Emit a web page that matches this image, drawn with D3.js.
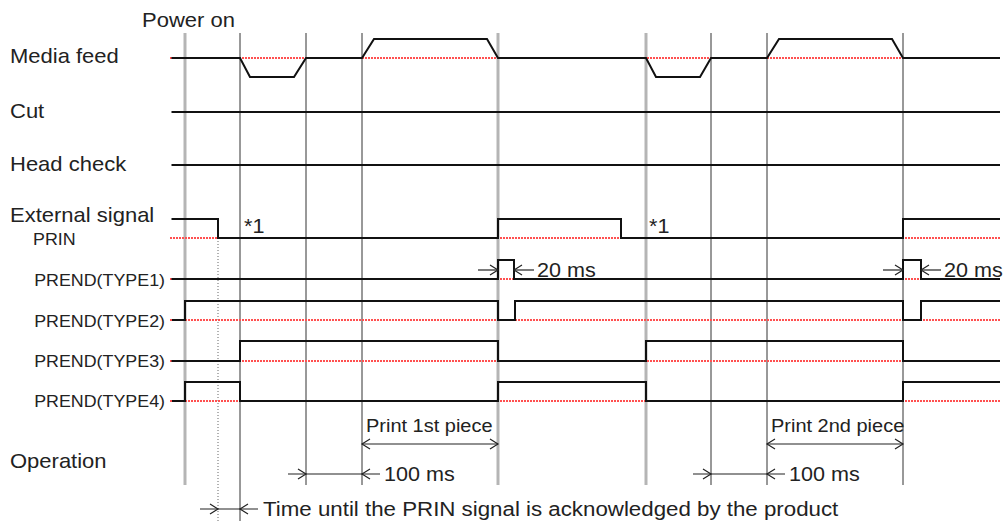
<!DOCTYPE html>
<html>
<head>
<meta charset="utf-8">
<script src="https://cdn.jsdelivr.net/npm/d3@7"></script>
<style>
  body { margin: 0; background: #fff; }
  text { font-family: "Liberation Sans", Arial, sans-serif; fill: #222; }
</style>
</head>
<body>
<div id="chart"></div>
<script>
// time units (arbitrary, not to scale like the original diagram)
const timeEnd = 83;

// signal waveforms: [time, level]
const mediaFeed = [[0, 0], [7.0, 0], [8.0, -1], [12.4, -1], [13.6, 0], [19.2, 0], [20.4, 1], [31.7, 1], [32.8, 0],
                   [47.6, 0], [48.6, -1], [53.0, -1], [54.1, 0], [59.7, 0], [60.9, 1], [72.2, 1], [73.3, 0], [83, 0]];
const cut = [[0, 0], [83, 0]];
const headCheck = [[0, 0], [83, 0]];
const prin = [[0, 1], [4.8, 0], [32.8, 1], [45.1, 0], [73.3, 1], [83, 1]];
const prendType1 = [[0, 0], [32.8, 1], [34.4, 0], [73.3, 1], [75.1, 0], [83, 0]];
const prendType2 = [[0.2, 0], [1.5, 1], [32.8, 0], [34.5, 1], [73.3, 0], [75.1, 1], [83, 1]];
const prendType3 = [[0, 0], [7.0, 1], [32.8, 0], [47.6, 1], [73.3, 0], [83, 0]];
const prendType4 = [[0.2, 0], [1.5, 1], [7.0, 0], [32.8, 1], [47.6, 0], [73.3, 1], [83, 1]];

// vertical timing markers
const markerTimes = [1.5, 4.8, 7.0, 13.6, 19.2, 32.8, 47.6, 54.1, 59.7, 73.3];
const markerKinds = ["grey", "dot", "long", "thin", "thin", "grey", "grey", "thin", "thin", "thin"];

// labels
const mainLabels = ["Media feed", "Cut", "Head check", "External signal", "Operation"];
const subLabels = ["PRIN", "PREND(TYPE1)", "PREND(TYPE2)", "PREND(TYPE3)", "PREND(TYPE4)"];
const noteLabels = ["*1", "*1"];
const noteTimes = [7.4, 47.9];

function init() {
    var w = 1008, h = 524;

    var x = d3.scaleLinear().domain([0, timeEnd]).range([170, 1000]);

    var svg = d3.select("#chart").append("svg")
        .attr("width", w)
        .attr("height", h);

    // layout of rows: baseline y and amplitude
    var rows = [
        { data: mediaFeed, y: 58, amp: 19, ramp: true, red: true },
        { data: cut, y: 112, amp: 19, red: false },
        { data: headCheck, y: 165, amp: 19, red: false },
        { data: prin, y: 238, amp: 19, red: true },
        { data: prendType1, y: 279, amp: 19, red: true },
        { data: prendType2, y: 320, amp: 19, red: true },
        { data: prendType3, y: 361, amp: 20, red: true },
        { data: prendType4, y: 401, amp: 19, red: true }
    ];

    // vertical markers
    var gMark = svg.append("g");
    markerTimes.forEach(function (t, i) {
        var kind = markerKinds[i];
        var line = gMark.append("line")
            .attr("x1", x(t)).attr("x2", x(t))
            .attr("y1", kind == "dot" ? 238 : 33)
            .attr("y2", (kind == "dot" || kind == "long") ? 521 : 485);
        if (kind == "grey") {
            line.attr("stroke", "#b5b5b5").attr("stroke-width", 3);
        } else if (kind == "dot") {
            line.attr("stroke", "#666").attr("stroke-width", 1).attr("stroke-dasharray", "1,2");
        } else {
            line.attr("stroke", "#333").attr("stroke-width", 1);
        }
    });

    // red reference lines then black waveforms
    var gSig = svg.append("g");
    rows.forEach(function (r) {
        if (r.red) {
            gSig.append("line")
                .attr("x1", x(0)).attr("x2", x(timeEnd))
                .attr("y1", r.y).attr("y2", r.y)
                .attr("stroke", "#ff5050")
                .attr("stroke-width", 2.2)
                .attr("stroke-dasharray", "2,1");
        }
        var line = d3.line()
            .x(function (d) { return x(d[0]) + (d[0] == 0 ? 1.5 : 0); })
            .y(function (d) { return r.y - d[1] * r.amp; })
            .curve(r.ramp ? d3.curveLinear : d3.curveStepAfter);
        gSig.append("path")
            .attr("d", line(r.data))
            .attr("fill", "none")
            .attr("stroke", "#111")
            .attr("stroke-width", 2);
    });

    // labels
    var mainY = [63, 118, 171, 222, 468];
    mainLabels.forEach(function (s, i) {
        svg.append("text")
            .attr("transform", "translate(10," + mainY[i] + ") scale(1.1,1)")
            .attr("font-size", 20)
            .text(s);
    });
    var subY = [245, 286, 327, 367, 407];
    subLabels.forEach(function (s, i) {
        svg.append("text")
            .attr("transform", "translate(" + (i == 0 ? 33 : 165) + "," + subY[i] + ") scale(1.05,1)")
            .attr("text-anchor", i == 0 ? "start" : "end")
            .attr("font-size", 17)
            .text(s);
    });
    svg.append("text")
        .attr("transform", "translate(142,27) scale(1.1,1)")
        .attr("font-size", 20)
        .text("Power on");
    noteLabels.forEach(function (s, i) {
        svg.append("text")
            .attr("transform", "translate(" + x(noteTimes[i]) + ",233) scale(1.08,1)")
            .attr("font-size", 20)
            .text(s);
    });

    // arrows
    var gA = svg.append("g").attr("stroke", "#222").attr("stroke-width", 1.2).attr("fill", "none");

    function head(px, py, dir) {
        gA.append("path")
            .attr("d", "M" + (px - dir * 8) + "," + (py - 5) + "L" + px + "," + py + "L" + (px - dir * 8) + "," + (py + 5));
    }
    function hline(x1, x2, py) {
        gA.append("line").attr("x1", x1).attr("x2", x2).attr("y1", py).attr("y2", py);
    }
    function note(px, py, s, size, sx) {
        svg.append("text")
            .attr("transform", "translate(" + px + "," + py + ") scale(" + (sx || 1.08) + ",1)")
            .attr("font-size", size)
            .text(s);
    }

    // 20 ms pulse width
    [[32.8, 34.4], [73.3, 75.1]].forEach(function (p) {
        var a = x(p[0]), b = x(p[1]);
        hline(a - 20, a, 270); head(a, 270, 1);
        hline(b, b + 20, 270); head(b, 270, -1);
        note(b + 23, 277, "20 ms", 20);
    });

    // print pieces
    [[19.2, 32.8, "Print 1st piece"], [59.7, 73.3, "Print 2nd piece"]].forEach(function (p) {
        var a = x(p[0]), b = x(p[1]);
        hline(a, b, 444); head(a, 444, -1); head(b, 444, 1);
        note(a + 4, 432, p[2], 18.5);
    });

    // 100 ms
    [[13.6, 19.2], [54.1, 59.7]].forEach(function (p) {
        var a = x(p[0]), b = x(p[1]);
        hline(a - 18, b + 18, 474); head(a, 474, 1); head(b, 474, -1);
        note(b + 22, 481, "100 ms", 20);
    });

    // PRIN acknowledge time
    hline(x(4.8) - 18, x(7.0) + 18, 509);
    head(x(4.8), 509, 1); head(x(7.0), 509, -1);
    note(x(7.0) + 23, 516, "Time until the PRIN signal is acknowledged by the product", 20, 1.115);
}
window.onload = init;
</script>
</body>
</html>
